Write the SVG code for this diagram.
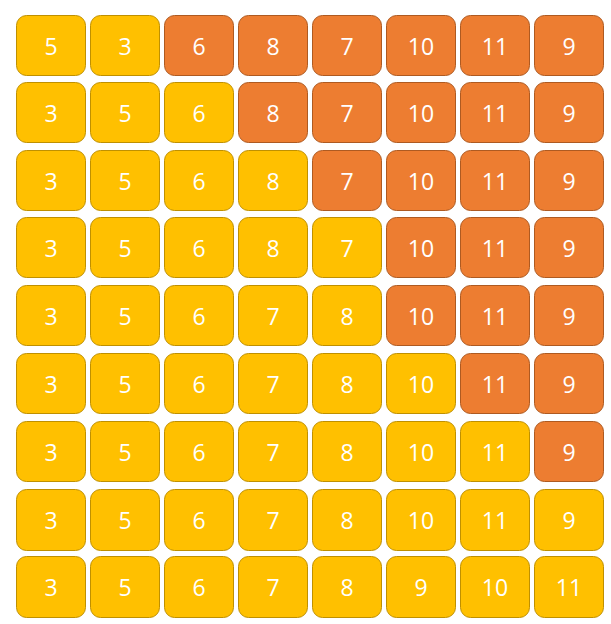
<svg xmlns="http://www.w3.org/2000/svg" width="611" height="624" viewBox="0 0 611 624">
<style>
rect{stroke-width:1}
.y rect{fill:#FFC000;stroke:#BF9000}
.o rect{fill:#ED7D31;stroke:#AE5A21}
text{font-family:"Open Sans","Noto Sans",sans-serif;font-size:23px;fill:#fff;text-anchor:middle;dominant-baseline:central}
</style>
<rect width="611" height="624" fill="#fff"/>
<g id="r1">
<g id="c1-1" class="y"><rect x="16.5" y="15.5" width="69" height="60" rx="10"/><text x="51" y="45.5">5</text></g>
<g id="c1-2" class="y"><rect x="90.5" y="15.5" width="69" height="60" rx="10"/><text x="125" y="45.5">3</text></g>
<g id="c1-3" class="o"><rect x="164.5" y="15.5" width="69" height="60" rx="10"/><text x="199" y="45.5">6</text></g>
<g id="c1-4" class="o"><rect x="238.5" y="15.5" width="69" height="60" rx="10"/><text x="273" y="45.5">8</text></g>
<g id="c1-5" class="o"><rect x="312.5" y="15.5" width="69" height="60" rx="10"/><text x="347" y="45.5">7</text></g>
<g id="c1-6" class="o"><rect x="386.5" y="15.5" width="69" height="60" rx="10"/><text x="421" y="45.5">10</text></g>
<g id="c1-7" class="o"><rect x="460.5" y="15.5" width="69" height="60" rx="10"/><text x="495" y="45.5">11</text></g>
<g id="c1-8" class="o"><rect x="534.5" y="15.5" width="69" height="60" rx="10"/><text x="569" y="45.5">9</text></g>
</g>
<g id="r2">
<g id="c2-1" class="y"><rect x="16.5" y="82.5" width="69" height="60" rx="10"/><text x="51" y="112.5">3</text></g>
<g id="c2-2" class="y"><rect x="90.5" y="82.5" width="69" height="60" rx="10"/><text x="125" y="112.5">5</text></g>
<g id="c2-3" class="y"><rect x="164.5" y="82.5" width="69" height="60" rx="10"/><text x="199" y="112.5">6</text></g>
<g id="c2-4" class="o"><rect x="238.5" y="82.5" width="69" height="60" rx="10"/><text x="273" y="112.5">8</text></g>
<g id="c2-5" class="o"><rect x="312.5" y="82.5" width="69" height="60" rx="10"/><text x="347" y="112.5">7</text></g>
<g id="c2-6" class="o"><rect x="386.5" y="82.5" width="69" height="60" rx="10"/><text x="421" y="112.5">10</text></g>
<g id="c2-7" class="o"><rect x="460.5" y="82.5" width="69" height="60" rx="10"/><text x="495" y="112.5">11</text></g>
<g id="c2-8" class="o"><rect x="534.5" y="82.5" width="69" height="60" rx="10"/><text x="569" y="112.5">9</text></g>
</g>
<g id="r3">
<g id="c3-1" class="y"><rect x="16.5" y="150.5" width="69" height="60" rx="10"/><text x="51" y="180.5">3</text></g>
<g id="c3-2" class="y"><rect x="90.5" y="150.5" width="69" height="60" rx="10"/><text x="125" y="180.5">5</text></g>
<g id="c3-3" class="y"><rect x="164.5" y="150.5" width="69" height="60" rx="10"/><text x="199" y="180.5">6</text></g>
<g id="c3-4" class="y"><rect x="238.5" y="150.5" width="69" height="60" rx="10"/><text x="273" y="180.5">8</text></g>
<g id="c3-5" class="o"><rect x="312.5" y="150.5" width="69" height="60" rx="10"/><text x="347" y="180.5">7</text></g>
<g id="c3-6" class="o"><rect x="386.5" y="150.5" width="69" height="60" rx="10"/><text x="421" y="180.5">10</text></g>
<g id="c3-7" class="o"><rect x="460.5" y="150.5" width="69" height="60" rx="10"/><text x="495" y="180.5">11</text></g>
<g id="c3-8" class="o"><rect x="534.5" y="150.5" width="69" height="60" rx="10"/><text x="569" y="180.5">9</text></g>
</g>
<g id="r4">
<g id="c4-1" class="y"><rect x="16.5" y="217.5" width="69" height="60" rx="10"/><text x="51" y="247.5">3</text></g>
<g id="c4-2" class="y"><rect x="90.5" y="217.5" width="69" height="60" rx="10"/><text x="125" y="247.5">5</text></g>
<g id="c4-3" class="y"><rect x="164.5" y="217.5" width="69" height="60" rx="10"/><text x="199" y="247.5">6</text></g>
<g id="c4-4" class="y"><rect x="238.5" y="217.5" width="69" height="60" rx="10"/><text x="273" y="247.5">8</text></g>
<g id="c4-5" class="y"><rect x="312.5" y="217.5" width="69" height="60" rx="10"/><text x="347" y="247.5">7</text></g>
<g id="c4-6" class="o"><rect x="386.5" y="217.5" width="69" height="60" rx="10"/><text x="421" y="247.5">10</text></g>
<g id="c4-7" class="o"><rect x="460.5" y="217.5" width="69" height="60" rx="10"/><text x="495" y="247.5">11</text></g>
<g id="c4-8" class="o"><rect x="534.5" y="217.5" width="69" height="60" rx="10"/><text x="569" y="247.5">9</text></g>
</g>
<g id="r5">
<g id="c5-1" class="y"><rect x="16.5" y="285.5" width="69" height="60" rx="10"/><text x="51" y="315.5">3</text></g>
<g id="c5-2" class="y"><rect x="90.5" y="285.5" width="69" height="60" rx="10"/><text x="125" y="315.5">5</text></g>
<g id="c5-3" class="y"><rect x="164.5" y="285.5" width="69" height="60" rx="10"/><text x="199" y="315.5">6</text></g>
<g id="c5-4" class="y"><rect x="238.5" y="285.5" width="69" height="60" rx="10"/><text x="273" y="315.5">7</text></g>
<g id="c5-5" class="y"><rect x="312.5" y="285.5" width="69" height="60" rx="10"/><text x="347" y="315.5">8</text></g>
<g id="c5-6" class="o"><rect x="386.5" y="285.5" width="69" height="60" rx="10"/><text x="421" y="315.5">10</text></g>
<g id="c5-7" class="o"><rect x="460.5" y="285.5" width="69" height="60" rx="10"/><text x="495" y="315.5">11</text></g>
<g id="c5-8" class="o"><rect x="534.5" y="285.5" width="69" height="60" rx="10"/><text x="569" y="315.5">9</text></g>
</g>
<g id="r6">
<g id="c6-1" class="y"><rect x="16.5" y="353.5" width="69" height="60" rx="10"/><text x="51" y="383.5">3</text></g>
<g id="c6-2" class="y"><rect x="90.5" y="353.5" width="69" height="60" rx="10"/><text x="125" y="383.5">5</text></g>
<g id="c6-3" class="y"><rect x="164.5" y="353.5" width="69" height="60" rx="10"/><text x="199" y="383.5">6</text></g>
<g id="c6-4" class="y"><rect x="238.5" y="353.5" width="69" height="60" rx="10"/><text x="273" y="383.5">7</text></g>
<g id="c6-5" class="y"><rect x="312.5" y="353.5" width="69" height="60" rx="10"/><text x="347" y="383.5">8</text></g>
<g id="c6-6" class="y"><rect x="386.5" y="353.5" width="69" height="60" rx="10"/><text x="421" y="383.5">10</text></g>
<g id="c6-7" class="o"><rect x="460.5" y="353.5" width="69" height="60" rx="10"/><text x="495" y="383.5">11</text></g>
<g id="c6-8" class="o"><rect x="534.5" y="353.5" width="69" height="60" rx="10"/><text x="569" y="383.5">9</text></g>
</g>
<g id="r7">
<g id="c7-1" class="y"><rect x="16.5" y="421.5" width="69" height="60" rx="10"/><text x="51" y="451.5">3</text></g>
<g id="c7-2" class="y"><rect x="90.5" y="421.5" width="69" height="60" rx="10"/><text x="125" y="451.5">5</text></g>
<g id="c7-3" class="y"><rect x="164.5" y="421.5" width="69" height="60" rx="10"/><text x="199" y="451.5">6</text></g>
<g id="c7-4" class="y"><rect x="238.5" y="421.5" width="69" height="60" rx="10"/><text x="273" y="451.5">7</text></g>
<g id="c7-5" class="y"><rect x="312.5" y="421.5" width="69" height="60" rx="10"/><text x="347" y="451.5">8</text></g>
<g id="c7-6" class="y"><rect x="386.5" y="421.5" width="69" height="60" rx="10"/><text x="421" y="451.5">10</text></g>
<g id="c7-7" class="y"><rect x="460.5" y="421.5" width="69" height="60" rx="10"/><text x="495" y="451.5">11</text></g>
<g id="c7-8" class="o"><rect x="534.5" y="421.5" width="69" height="60" rx="10"/><text x="569" y="451.5">9</text></g>
</g>
<g id="r8">
<g id="c8-1" class="y"><rect x="16.5" y="489.5" width="69" height="61" rx="10"/><text x="51" y="520">3</text></g>
<g id="c8-2" class="y"><rect x="90.5" y="489.5" width="69" height="61" rx="10"/><text x="125" y="520">5</text></g>
<g id="c8-3" class="y"><rect x="164.5" y="489.5" width="69" height="61" rx="10"/><text x="199" y="520">6</text></g>
<g id="c8-4" class="y"><rect x="238.5" y="489.5" width="69" height="61" rx="10"/><text x="273" y="520">7</text></g>
<g id="c8-5" class="y"><rect x="312.5" y="489.5" width="69" height="61" rx="10"/><text x="347" y="520">8</text></g>
<g id="c8-6" class="y"><rect x="386.5" y="489.5" width="69" height="61" rx="10"/><text x="421" y="520">10</text></g>
<g id="c8-7" class="y"><rect x="460.5" y="489.5" width="69" height="61" rx="10"/><text x="495" y="520">11</text></g>
<g id="c8-8" class="y"><rect x="534.5" y="489.5" width="69" height="61" rx="10"/><text x="569" y="520">9</text></g>
</g>
<g id="r9">
<g id="c9-1" class="y"><rect x="16.5" y="556.5" width="69" height="61" rx="10"/><text x="51" y="587">3</text></g>
<g id="c9-2" class="y"><rect x="90.5" y="556.5" width="69" height="61" rx="10"/><text x="125" y="587">5</text></g>
<g id="c9-3" class="y"><rect x="164.5" y="556.5" width="69" height="61" rx="10"/><text x="199" y="587">6</text></g>
<g id="c9-4" class="y"><rect x="238.5" y="556.5" width="69" height="61" rx="10"/><text x="273" y="587">7</text></g>
<g id="c9-5" class="y"><rect x="312.5" y="556.5" width="69" height="61" rx="10"/><text x="347" y="587">8</text></g>
<g id="c9-6" class="y"><rect x="386.5" y="556.5" width="69" height="61" rx="10"/><text x="421" y="587">9</text></g>
<g id="c9-7" class="y"><rect x="460.5" y="556.5" width="69" height="61" rx="10"/><text x="495" y="587">10</text></g>
<g id="c9-8" class="y"><rect x="534.5" y="556.5" width="69" height="61" rx="10"/><text x="569" y="587">11</text></g>
</g>
</svg>
